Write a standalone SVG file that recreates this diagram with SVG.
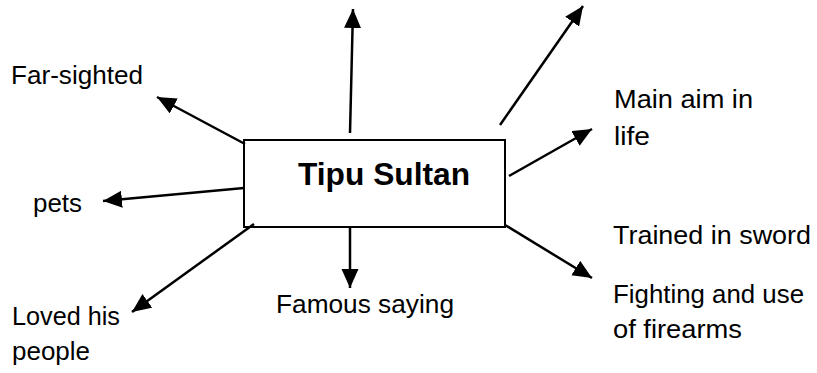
<svg xmlns="http://www.w3.org/2000/svg" width="817" height="373" viewBox="0 0 817 373">
<defs>
<marker id="ah" markerUnits="userSpaceOnUse" markerWidth="20" markerHeight="18" refX="19" refY="8.5" orient="auto">
<path d="M0,0 L19,8.5 L0,17 z" fill="#000"/>
</marker>
<style>
.lbl{font-family:"Liberation Sans",Arial,sans-serif;font-size:26px;fill:#000}
.ttl{font-family:"Liberation Sans",Arial,sans-serif;font-size:31px;font-weight:bold;fill:#000}
.con line{stroke:#000;stroke-width:2.5;marker-end:url(#ah)}
</style>
</defs>
<rect width="817" height="373" fill="#fff"/>
<g id="center">
<rect x="244" y="140" width="261" height="87" fill="#fff" stroke="#000" stroke-width="2"/>
<text class="ttl" x="298" y="185" textLength="172" lengthAdjust="spacingAndGlyphs">Tipu Sultan</text>
</g>
<g id="connectors" class="con">
<line x1="350" y1="133" x2="353" y2="9"/>
<line x1="500" y1="125" x2="583" y2="6"/>
<line x1="509" y1="176" x2="592" y2="129"/>
<line x1="245" y1="144" x2="157" y2="97"/>
<line x1="244" y1="188" x2="103" y2="201"/>
<line x1="254" y1="224" x2="132" y2="312"/>
<line x1="505" y1="225" x2="592" y2="278"/>
<line x1="350" y1="227" x2="350" y2="288"/>
</g>
<g id="far-sighted"><text class="lbl" x="11" y="84" textLength="132" lengthAdjust="spacingAndGlyphs">Far-sighted</text></g>
<g id="pets"><text class="lbl" x="33" y="212" textLength="49" lengthAdjust="spacingAndGlyphs">pets</text></g>
<g id="loved"><text class="lbl" x="12" y="325" textLength="108" lengthAdjust="spacingAndGlyphs">Loved his</text><text class="lbl" x="12" y="360" textLength="78" lengthAdjust="spacingAndGlyphs">people</text></g>
<g id="famous"><text class="lbl" x="276" y="313" textLength="178" lengthAdjust="spacingAndGlyphs">Famous saying</text></g>
<g id="main-aim"><text class="lbl" x="614" y="108" textLength="139" lengthAdjust="spacingAndGlyphs">Main aim in</text><text class="lbl" x="614" y="145" textLength="36" lengthAdjust="spacingAndGlyphs">life</text></g>
<g id="trained"><text class="lbl" x="613" y="244" textLength="198" lengthAdjust="spacingAndGlyphs">Trained in sword</text><text class="lbl" x="613" y="303" textLength="191" lengthAdjust="spacingAndGlyphs">Fighting and use</text><text class="lbl" x="613" y="338" textLength="129" lengthAdjust="spacingAndGlyphs">of firearms</text></g>
</svg>
